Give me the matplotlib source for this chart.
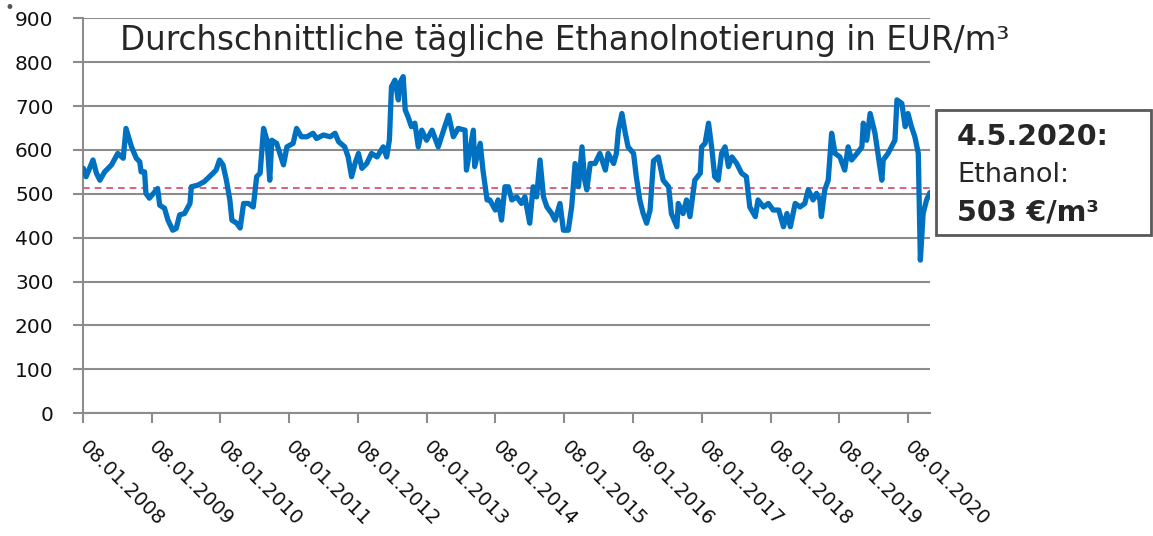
import numpy as np
import pandas as pd
import matplotlib
matplotlib.use('Agg')
import matplotlib.pyplot as plt
from matplotlib.patches import Rectangle

# years after 08.01.2008 and price in EUR/m3
start = pd.Timestamp('2008-01-08')
end = pd.Timestamp('2020-05-04')
years = [0.01, 0.05, 0.15, 0.20, 0.25, 0.32, 0.42, 0.51, 0.59, 0.63, 0.71, 0.78, 0.83, 0.85, 0.90,
         0.92, 0.97, 1.05, 1.09, 1.12, 1.19, 1.24, 1.31, 1.36, 1.41, 1.48, 1.56, 1.58, 1.68, 1.77,
         1.87, 1.94, 1.99, 2.04, 2.09, 2.14, 2.17, 2.24, 2.29, 2.34, 2.41, 2.48, 2.53, 2.58, 2.63,
         2.68, 2.72, 2.75, 2.82, 2.92, 2.97, 3.06, 3.11, 3.18, 3.26, 3.35, 3.40, 3.50, 3.60, 3.67,
         3.72, 3.81, 3.86, 3.91, 3.96, 4.01, 4.06, 4.13, 4.20, 4.28, 4.37, 4.42, 4.46, 4.49, 4.54,
         4.59, 4.61, 4.66, 4.69, 4.73, 4.78, 4.83, 4.88, 4.93, 5.00, 5.08, 5.17, 5.24, 5.32, 5.39,
         5.46, 5.56, 5.58, 5.63, 5.68, 5.70, 5.78, 5.82, 5.88, 5.92, 6.00, 6.04, 6.09, 6.14, 6.19,
         6.24, 6.31, 6.38, 6.43, 6.50, 6.55, 6.60, 6.65, 6.70, 6.75, 6.82, 6.87, 6.94, 6.99, 7.06,
         7.11, 7.16, 7.21, 7.26, 7.30, 7.33, 7.38, 7.45, 7.52, 7.60, 7.64, 7.72, 7.76, 7.79, 7.84,
         7.89, 7.93, 8.01, 8.05, 8.10, 8.15, 8.20, 8.25, 8.30, 8.37, 8.44, 8.52, 8.56, 8.64, 8.66,
         8.73, 8.78, 8.83, 8.90, 8.98, 9.00, 9.05, 9.10, 9.15, 9.19, 9.24, 9.29, 9.34, 9.39, 9.44,
         9.51, 9.58, 9.65, 9.70, 9.78, 9.82, 9.90, 9.97, 10.04, 10.12, 10.19, 10.24, 10.29, 10.36, 10.43,
         10.50, 10.55, 10.62, 10.67, 10.72, 10.74, 10.79, 10.84, 10.89, 10.94, 11.01, 11.08, 11.13, 11.18, 11.26,
         11.33, 11.35, 11.40, 11.45, 11.52, 11.57, 11.62, 11.64, 11.71, 11.76, 11.81, 11.84, 11.91, 11.96, 12.00,
         12.05, 12.10, 12.15, 12.18, 12.22, 12.27, 12.32]
price = [558, 539, 577, 547, 531, 550, 566, 592, 581, 649, 607, 581, 573, 550, 550,
         501, 490, 505, 512, 474, 467, 440, 417, 421, 452, 455, 478, 516, 520, 528,
         543, 554, 577, 566, 531, 486, 440, 433, 422, 478, 478, 470, 539, 547, 649,
         622, 531, 622, 615, 566, 607, 615, 649, 630, 630, 638, 626, 634, 630, 638,
         619, 607, 584, 539, 569, 592, 558, 569, 592, 584, 607, 584, 623, 744, 759,
         714, 752, 767, 691, 676, 653, 661, 607, 645, 622, 645, 607, 641, 679, 630,
         649, 645, 554, 600, 645, 562, 615, 554, 486, 486, 463, 486, 440, 516, 516,
         486, 493, 478, 493, 433, 516, 493, 577, 493, 470, 455, 440, 478, 417, 417,
         470, 569, 516, 607, 531, 509, 569, 569, 592, 554, 592, 569, 592, 645, 683,
         638, 607, 592, 539, 486, 455, 433, 463, 575, 584, 531, 516, 455, 425, 478,
         455, 486, 448, 531, 547, 607, 615, 661, 600, 539, 531, 592, 607, 562, 584,
         569, 547, 539, 470, 448, 486, 470, 478, 463, 463, 425, 455, 425, 478, 470,
         478, 509, 486, 501, 486, 448, 509, 531, 638, 592, 584, 554, 607, 577, 592,
         607, 661, 622, 683, 638, 584, 531, 577, 592, 607, 622, 714, 706, 653, 683,
         653, 630, 592, 349, 455, 486, 503]
avg_price = 513
tick_years = list(range(2008, 2021))
tick_labels = ['08.01.%d' % y for y in tick_years]

dates = start + pd.to_timedelta(np.array(years) * 365.25, unit='D')
ticks = [pd.Timestamp('%d-01-08' % y) for y in tick_years]

fig = plt.figure(figsize=(11.53, 5.36), dpi=100)
ax = fig.add_axes([0.0717, 0.2291, 0.7349, 0.7368])
ax.plot(dates, price, color='#0070C0', lw=3.8, solid_joinstyle='round', solid_capstyle='round', zorder=3)
ax.axhline(avg_price, color='#D9456A', lw=1.2, ls=(0, (4, 3)), zorder=2)

ax.set_ylim(0, 900)
ax.set_yticks(range(0, 901, 100))
ax.set_xlim(start, end)
ax.set_xticks(ticks)
ax.set_xticklabels(tick_labels, rotation=-45, ha='left', va='center', rotation_mode='anchor')
ax.grid(axis='y', color='#8c8c8c', lw=1.5, zorder=1)
ax.set_axisbelow(True)
for s in ['top', 'right']:
    ax.spines[s].set_visible(False)
for s in ['left', 'bottom']:
    ax.spines[s].set_color('#8c8c8c')
    ax.spines[s].set_linewidth(1.5)
ax.tick_params(axis='both', length=7, width=1.5, color='#8c8c8c', labelsize=14.5, labelcolor='#111111')
ax.tick_params(axis='y', pad=14)
ax.tick_params(axis='x', pad=15, labelsize=14)

fig.text(0.4896, 0.925, 'Durchschnittliche tägliche Ethanolnotierung in EUR/m³',
         ha='center', va='center', fontsize=23.5, color='#262626')

fig.patches.append(Rectangle((0.8118, 0.5616), 0.1865, 0.2332, transform=fig.transFigure,
                             fill=False, edgecolor='#595959', lw=2))
fig.text(0.830, 0.744, '4.5.2020:', fontsize=20.5, fontweight='bold', color='#262626', va='center')
fig.text(0.830, 0.674, 'Ethanol:', fontsize=19.5, color='#262626', va='center')
fig.text(0.830, 0.603, '503 €/m³', fontsize=20.5, fontweight='bold', color='#262626', va='center')
fig.text(0.004, 0.985, '•', fontsize=12, color='#555555', va='center')

fig.savefig('out.png', dpi=100)
